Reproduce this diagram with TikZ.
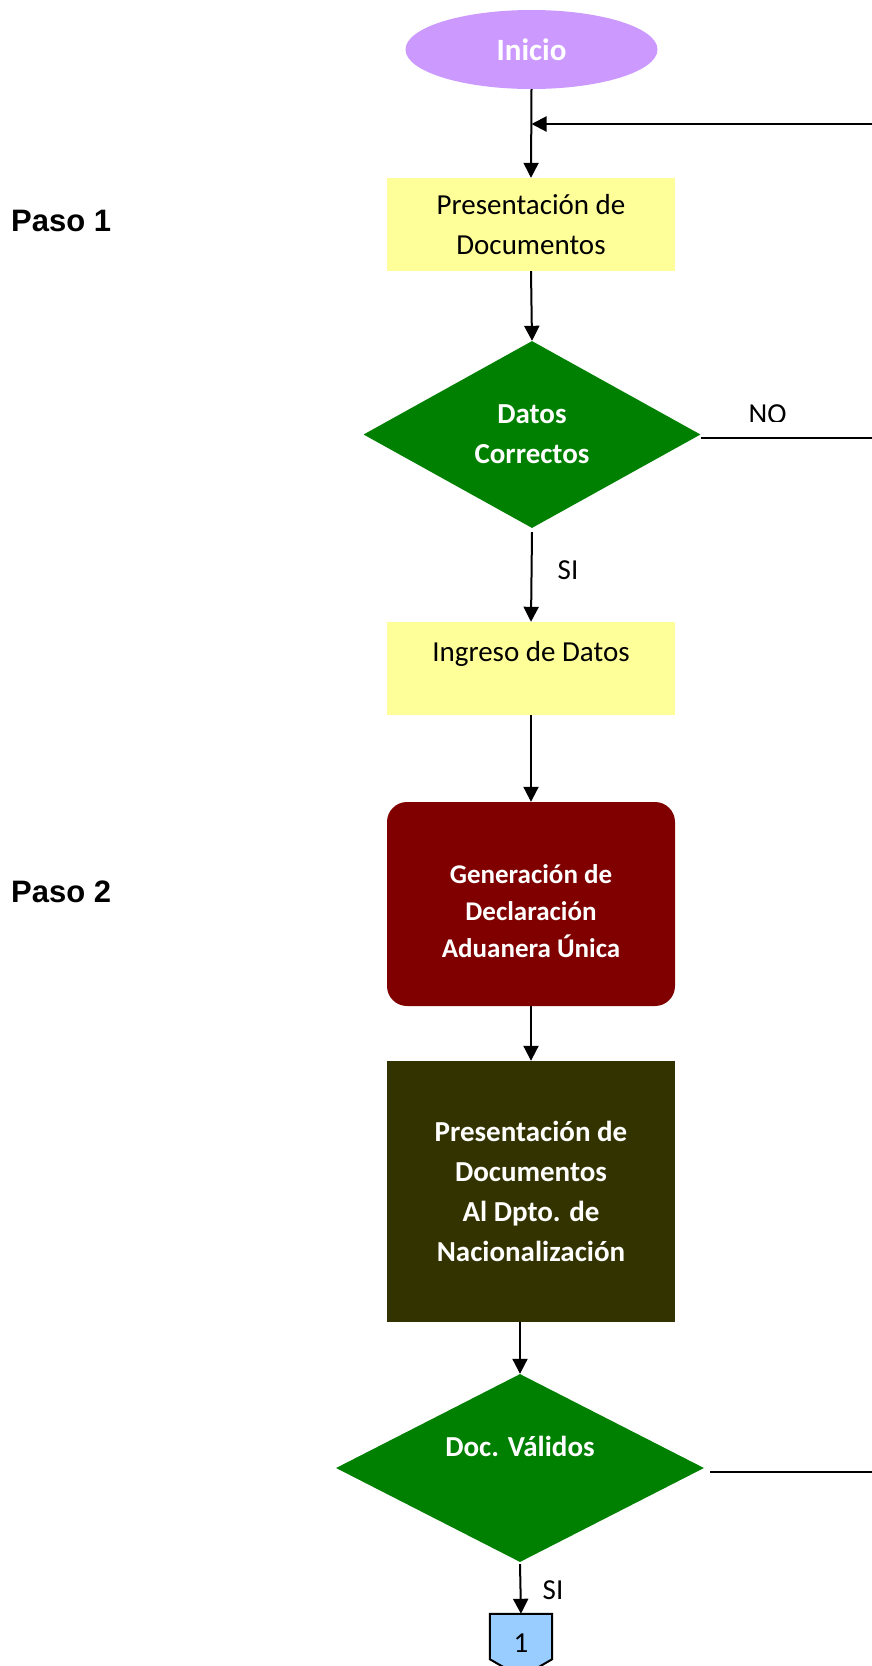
\documentclass[tikz,border=0pt]{standalone}
\usepackage{fontspec}
\setmainfont{Carlito}
\newfontfamily\arialfont{Liberation Sans}
\usetikzlibrary{shapes.geometric,arrows.meta,calc}
\definecolor{cpurple}{HTML}{CC99FF}
\definecolor{cyellow}{HTML}{FFFF99}
\definecolor{cgreen}{HTML}{008000}
\definecolor{cmaroon}{HTML}{800000}
\definecolor{colive}{HTML}{333300}
\definecolor{cblue}{HTML}{99CCFF}
\begin{document}
\begin{tikzpicture}[x=1pt,y=-1pt,
  arr/.style={line width=2pt,-{Triangle[length=15pt,width=15pt]}},
  ln/.style={line width=2pt},
  box/.style={rectangle, minimum width=288pt, inner sep=0pt, align=center},
  reg/.style={font=\fontsize{29}{40.5}\selectfont},
  bld/.style={font=\fontsize{29}{40}\selectfont\bfseries, text=white},
  dec/.style={diamond, fill=cgreen, inner sep=0pt, align=center, bld},
  paso/.style={font=\arialfont\fontsize{31}{36}\selectfont\bfseries, anchor=west, inner sep=0pt}
]
\useasboundingbox (0,0) rectangle (872,1666);

% step labels
\node[paso] (paso1) at (11,221) {Paso 1};
\node[paso] (paso2) at (11,892) {Paso 2};

% nodes
\node[ellipse, fill=cpurple, minimum width=252pt, minimum height=79pt, inner sep=0pt,
      font=\fontsize{31}{36}\selectfont\bfseries, text=white] (inicio) at (531.5,49.5) {Inicio};
\node[box, fill=cyellow, minimum height=93pt, reg] (p1) at (531,224.5) {Presentación de\\Documentos};
\node[dec, minimum width=337pt, minimum height=187pt, aspect=1.8] (d1) at (532,434.5) {Datos\\Correctos};
\node[box, fill=cyellow, minimum height=93pt, reg, text height=22pt, text depth=37pt] (ing) at (531,668.5) {Ingreso de Datos};
\node[box, fill=cmaroon, minimum height=204pt, rounded corners=20pt,
      font=\fontsize{27}{37}\selectfont\bfseries, text=white] (gen) at (531,904) {\rule{0pt}{33pt}Generación de\\Declaración\\Aduanera Única};
\node[box, fill=colive, minimum height=261pt, bld] (pres2) at (531,1191.5) {Presentación de\\Documentos\\Al Dpto. de\\Nacionalización};
\node[dec, minimum width=368pt, minimum height=188pt, aspect=1.95, text height=22pt, text depth=46pt] (d2) at (520,1468) {Doc. Válidos};

% off-page connector
\node[rectangle, minimum width=62pt, minimum height=45pt, inner sep=0pt] (c1) at (521,1636.5) {};
\draw[line width=2pt, fill=cblue, line join=miter]
  (c1.north west) -- (c1.north east) -- (c1.south east) -- ($(c1.south)+(0,18)$) -- (c1.south west) -- cycle;
\node[reg, inner sep=0pt, text height=36pt, text depth=5pt] (c1t) at (c1) {1};

% free ends at the right edge
\coordinate (retin) at (872,124);
\coordinate (noend) at (872,438);
\coordinate (d2end) at (872,1472);
\coordinate (join) at (inicio.south |- retin);

% connectors
\draw[arr] (inicio.south) -- (p1.north);
\draw[arr] (retin) -- (join);
\draw[arr] (p1.south) -- (d1.north);
\draw[ln] (d1.east |- noend) -- (noend);
\draw[arr] ($(d1.south)+(0,4)$) -- (ing.north);
\draw[arr] (ing.south) -- (gen.north);
\draw[arr] (gen.south) -- (pres2.north);
\draw[arr] (pres2.south -| d2.north) -- (d2.north);
\draw[ln] ($(d2.east |- d2end)+(6,0)$) -- (d2end);
\draw[arr] ($(d2.south)+(0,2)$) -- (c1.north);

% labels
\begin{scope}
  \clip (700,380) rectangle (872,421.5);
  \node[reg, inner sep=0pt] (nolbl) at (767.5,414) {NO};
\end{scope}
\node[reg, inner sep=0pt] (si1) at (568,570) {SI};
\node[reg, inner sep=0pt] (si2) at (553,1590) {SI};
\end{tikzpicture}
\end{document}
